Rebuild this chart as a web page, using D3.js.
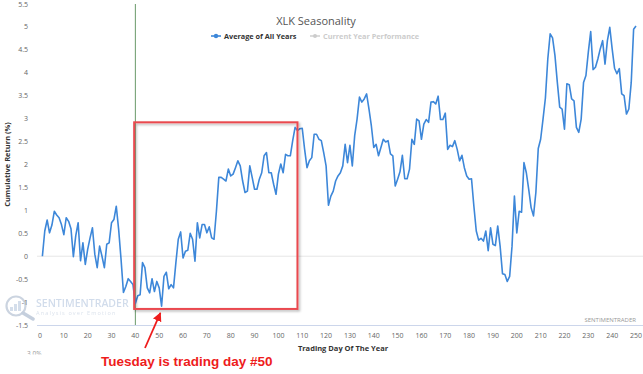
<!DOCTYPE html>
<html><head><meta charset="utf-8">
<script src="https://cdn.jsdelivr.net/npm/d3@7"></script>
<style>body{margin:0;background:#fff}svg{display:block;font-family:"Open Sans",sans-serif}</style>
</head><body><svg id="c" width="643" height="374"></svg>
<script>
// Average cumulative return (%) for trading days 1..250
const avgValues = [
 0, 0.55, 0.79, 0.51, 0.68, 0.98, 0.90, 0.84, 0.69, 0.47,
 0.84, 0.76, 0.60, -0.01, 0.45, 0.73, -0.10, 0.29, -0.18, 0.15,
 0.40, 0.62, 0.04, -0.25, 0.22, 0.00, -0.25, 0.26, 0.29, 0.73,
 0.80, 1.09, 0.58, -0.07, -0.79, -0.66, -0.49, -0.55, -0.62, -1.03,
 -0.86, -0.84, -0.14, -0.25, -0.69, -0.80, -0.49, -0.77, -0.55, -0.69,
 -1.09, -0.44, -0.35, -0.71, -0.62, -0.69, -0.14, 0.37, 0.53, -0.04,
 0.11, 0.13, 0.50, 0.37, -0.11, 0.73, 0.40, 0.69, 0.69, 0.51,
 0.64, 0.40, 0.37, 0.98, 1.72, 1.72, 1.68, 1.64, 1.90, 1.75,
 1.79, 1.93, 2.08, 1.97, 1.64, 1.39, 1.42, 1.97, 1.72, 1.46,
 1.46, 1.68, 1.82, 2.19, 2.26, 1.82, 1.82, 1.57, 1.35, 1.79,
 2.01, 1.82, 2.22, 2.19, 2.19, 2.52, 2.81, 2.74, 2.78, 2.79,
 2.33, 1.93, 2.08, 2.15, 2.66, 2.66, 2.55, 2.52, 2.26, 1.97,
 1.11, 1.31, 1.42, 1.64, 1.75, 1.82, 1.97, 2.44, 2.04, 2.42,
 1.97, 2.63, 2.99, 3.47, 3.36, 3.43, 3.54, 3.21, 2.84, 2.37,
 2.44, 2.19, 2.37, 2.55, 2.49, 2.52, 2.23, 2.19, 1.53, 1.68,
 1.84, 2.20, 1.69, 1.69, 1.90, 2.55, 2.44, 2.99, 2.95, 2.55,
 2.88, 2.98, 2.92, 3.36, 3.37, 3.32, 3.49, 2.98, 2.98, 3.12,
 2.33, 2.42, 2.39, 2.52, 2.33, 2.08, 2.20, 1.93, 1.75, 1.68,
 1.69, 1.09, 0.55, 0.35, 0.39, 0.33, 0.55, 0.12, 0.62, 0.26,
 0.23, 0.66, 0.22, -0.38, -0.40, -0.55, -0.44, 0.22, 1.31, 0.51,
 0.98, 0.96, 2.04, 1.82, 1.46, 1.06, 0.88, 1.39, 2.35, 2.55,
 2.99, 3.45, 4.30, 4.85, 4.76, 4.38, 3.79, 3.25, 3.21, 2.77,
 3.76, 3.74, 3.43, 3.39, 2.81, 2.70, 2.99, 3.79, 3.94, 4.45,
 4.90, 4.07, 4.12, 4.30, 4.52, 4.70, 4.19, 4.70, 4.99, 4.52,
 4.10, 3.98, 4.09, 3.54, 3.50, 3.10, 3.21, 3.79, 4.95, 5.02
];
const firstDay = 1;
const xTickValues = [0,10,20,30,40,50,60,70,80,90,100,110,120,130,140,150,160,170,180,190,200,210,220,230,240,250];
const yTickValues = [-1.5,-1,-0.5,0,0.5,1,1.5,2,2.5,3,3.5,4,4.5,5,5.5];
const markerDay = 40;
const boxDays = [39.5, 108];
const boxValues = [-1.15, 2.92];
const pointedDay = 50.5;
const titleText = "XLK Seasonality";
const legendLabels = ["Average of All Years", "Current Year Performance"];
const annotationText = "Tuesday is trading day #50";

const svg = d3.select("#c");
const x = d3.scaleLinear().domain([0, 250]).range([40, 636]);
const y = d3.scaleLinear().domain([-1.5, 5.5]).range([325, 4]);
const data = avgValues.map((v, i) => ({day: i + firstDay, v}));

const defs = svg.append("defs");
const f = defs.append("filter").attr("id","sh").attr("x","-10%").attr("y","-10%").attr("width","130%").attr("height","130%");
f.append("feDropShadow").attr("dx",1.5).attr("dy",1.5).attr("stdDeviation",1.2).attr("flood-color","#000").attr("flood-opacity",0.3);
const m = defs.append("marker").attr("id","ah").attr("viewBox","0 0 10 10").attr("refX",9).attr("refY",5)
  .attr("markerWidth",5).attr("markerHeight",5).attr("orient","auto-start-reverse").attr("markerUnits","strokeWidth");
m.append("path").attr("d","M0,0L10,5L0,10z").attr("fill","#ee1c1c");
defs.append("clipPath").attr("id","cut").append("rect").attr("x",0).attr("y",0).attr("width",643).attr("height",354.5);

// zero grid line
svg.append("line").attr("x1",37).attr("x2",643).attr("y1",y(0)).attr("y2",y(0)).attr("stroke","#e6e6e6").attr("stroke-width",1);
// x axis line
svg.append("line").attr("x1",37).attr("x2",643).attr("y1",y(-1.5)+0.5).attr("y2",y(-1.5)+0.5).attr("stroke","#ccd6eb").attr("stroke-width",1);

// watermark
const wm = svg.append("g").attr("opacity",0.6);
wm.append("circle").attr("cx",16).attr("cy",306).attr("r",9.5).attr("fill","none").attr("stroke","#aab8cc").attr("stroke-width",2.2);
wm.append("line").attr("x1",23).attr("y1",313).attr("x2",33).attr("y2",319).attr("stroke","#9fb0c8").attr("stroke-width",3.5).attr("stroke-linecap","round");
[[10,4],[14,7],[18,10]].forEach(([bx,bh]) => wm.append("rect").attr("x",bx).attr("y",311-bh).attr("width",3).attr("height",bh).attr("fill","#b9c9de"));
wm.append("text").attr("x",36).attr("y",307).attr("font-size",10.5).attr("font-weight",600).attr("fill","#b3c5de").text("SENTIMENTRADER");
wm.append("text").attr("x",36).attr("y",314.5).attr("font-size",5.6).attr("letter-spacing",1.1).attr("fill","#c3cfdf").text("Analysis over Emotion");

// axis ticks labels
svg.append("g").selectAll("text").data(xTickValues).join("text")
  .attr("x", d => x(d)).attr("y", 338).attr("text-anchor","middle").attr("font-size",7).attr("fill","#666").text(d => d);
svg.append("g").selectAll("text").data(yTickValues).join("text")
  .attr("x", 28).attr("y", d => y(d) + 2.5).attr("text-anchor","end").attr("font-size",7).attr("fill","#666").text(d => d);

// axis titles
svg.append("text").attr("transform",`translate(10,${(y(-1.5)+y(5.5))/2}) rotate(-90)`).attr("text-anchor","middle")
  .attr("font-size",7.5).attr("font-weight",700).attr("fill","#333").text("Cumulative Return (%)");
svg.append("text").attr("x",343).attr("y",351).attr("text-anchor","middle").attr("font-size",7.5).attr("font-weight",700).attr("fill","#333").text("Trading Day Of The Year");

// marker vertical line
svg.append("line").attr("x1",x(markerDay)).attr("x2",x(markerDay)).attr("y1",y(5.5)).attr("y2",y(-1.5)).attr("stroke","#6a9a6a").attr("stroke-width",1);

// series line
svg.append("path").datum(data).attr("fill","none").attr("stroke","#3d87d9").attr("stroke-width",1.6).attr("stroke-linejoin","round")
  .attr("d", d3.line().x(d => x(d.day)).y(d => y(d.v)));

// highlight box
svg.append("rect").attr("x",x(boxDays[0])).attr("y",y(boxValues[1])).attr("width",x(boxDays[1])-x(boxDays[0])).attr("height",y(boxValues[0])-y(boxValues[1]))
  .attr("fill","none").attr("stroke","#ea4a4f").attr("stroke-width",2).attr("filter","url(#sh)");

// title & legend
svg.append("text").attr("x",316).attr("y",25).attr("text-anchor","middle").attr("font-size",11).attr("fill","#555").text(titleText);
const lg = svg.append("g");
lg.append("line").attr("x1",211).attr("x2",221).attr("y1",36).attr("y2",36).attr("stroke","#3d87d9").attr("stroke-width",1.6);
lg.append("circle").attr("cx",216).attr("cy",36).attr("r",2.2).attr("fill","#3d87d9");
lg.append("text").attr("x",224).attr("y",38.5).attr("font-size",7.3).attr("font-weight",700).attr("fill","#333").text(legendLabels[0]);
lg.append("line").attr("x1",310).attr("x2",320).attr("y1",36).attr("y2",36).attr("stroke","#ccc").attr("stroke-width",1.4);
lg.append("circle").attr("cx",315).attr("cy",36).attr("r",2).attr("fill","#ccc");
lg.append("text").attr("x",323).attr("y",38.5).attr("font-size",7.3).attr("font-weight",700).attr("fill","#ccc").text(legendLabels[1]);

// credits
svg.append("text").attr("x",636).attr("y",322).attr("text-anchor","end").attr("font-size",6).attr("fill","#999").text("SENTIMENTRADER");
svg.append("text").attr("x",27).attr("y",356).attr("font-size",6.5).attr("fill","#999").attr("clip-path","url(#cut)").text("3.0%");

// annotation
svg.append("line").attr("x1",145).attr("y1",348).attr("x2",x(pointedDay)).attr("y2",y(boxValues[0])+4)
  .attr("stroke","#ee1c1c").attr("stroke-width",1.8).attr("marker-end","url(#ah)");
svg.append("text").attr("x",101).attr("y",366).attr("font-family","Liberation Sans, Arial, sans-serif").attr("font-size",13.5).attr("font-weight",700)
  .attr("fill","#ee1c1c").text(annotationText);
</script></body></html>
